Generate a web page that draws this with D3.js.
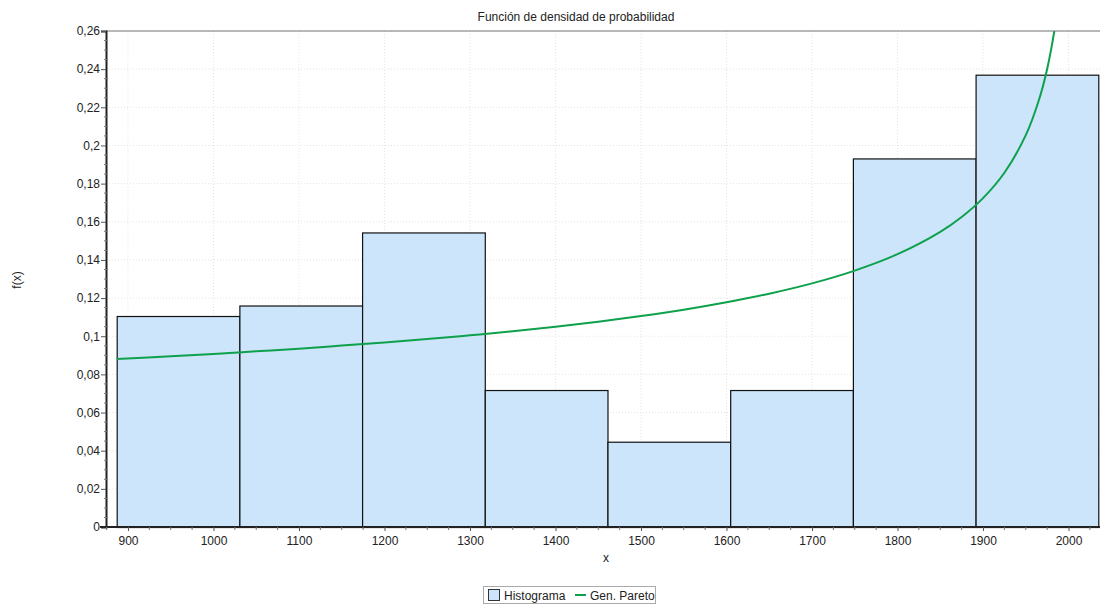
<!DOCTYPE html>
<html>
<head>
<meta charset="utf-8">
<script src="https://cdn.jsdelivr.net/npm/d3@7"></script>
<style>
  html, body { margin: 0; padding: 0; background: #fff; }
  svg text { font-family: "Liberation Sans", Arial, sans-serif; fill: #222; }
</style>
</head>
<body>
<svg id="chart" width="1102" height="605"></svg>
<script>
// ---- data ----
const binEdges = [886.8, 1030.3, 1173.8, 1317.3, 1460.8, 1604.3, 1747.8, 1891.3, 2034.8];
const binValues = [0.1106, 0.1161, 0.1544, 0.0718, 0.0447, 0.0718, 0.1932, 0.2371];
const curveX = [887, 950, 1000, 1050, 1100, 1150, 1200, 1250, 1300, 1350, 1400, 1450, 1500, 1550, 1600, 1650, 1700, 1750, 1800, 1850, 1875, 1900, 1925, 1950, 1965, 1975, 1985, 1992];
const curveY = [0.0880, 0.0895, 0.0907, 0.0921, 0.0935, 0.0951, 0.0967, 0.0985, 0.1005, 0.1026, 0.1050, 0.1076, 0.1106, 0.1139, 0.1178, 0.1223, 0.1277, 0.1344, 0.1430, 0.1547, 0.1625, 0.1724, 0.1857, 0.2054, 0.2233, 0.2401, 0.2647, 0.2911];
const xTicks = [900, 1000, 1100, 1200, 1300, 1400, 1500, 1600, 1700, 1800, 1900, 2000];
const xTickLabels = ["900", "1000", "1100", "1200", "1300", "1400", "1500", "1600", "1700", "1800", "1900", "2000"];
const yTicks = [0, 0.02, 0.04, 0.06, 0.08, 0.1, 0.12, 0.14, 0.16, 0.18, 0.2, 0.22, 0.24, 0.26];
const yTickLabels = ["0", "0,02", "0,04", "0,06", "0,08", "0,1", "0,12", "0,14", "0,16", "0,18", "0,2", "0,22", "0,24", "0,26"];
const titleText = "Función de densidad de probabilidad";
const xLabel = "x";
const yLabel = "f(x)";
const legendLabels = ["Histograma", "Gen. Pareto"];

// ---- layout ----
const L = 106, R = 1100, T = 31, B = 527;
const svg = d3.select("#chart");
const x = d3.scaleLinear().domain([874.3, 2036.8]).range([L, R]);
const y = d3.scaleLinear().domain([0, 0.26]).range([B, T]);

// grid
const grid = svg.append("g");
grid.selectAll("line.gx").data(xTicks).enter().append("line")
  .attr("x1", d => x(d)).attr("x2", d => x(d)).attr("y1", T).attr("y2", B)
  .attr("stroke", "#e4e4e4").attr("stroke-dasharray", "1,2");
grid.selectAll("line.gy").data(yTicks.slice(1)).enter().append("line")
  .attr("x1", L).attr("x2", R).attr("y1", d => y(d)).attr("y2", d => y(d))
  .attr("stroke", "#e4e4e4").attr("stroke-dasharray", "1,2");

// bars
const bins = binValues.map((v, i) => ({x0: binEdges[i], x1: binEdges[i + 1], v}));
svg.append("g").selectAll("rect").data(bins).enter().append("rect")
  .attr("x", d => x(d.x0) + 0.5).attr("y", d => y(d.v) + 0.5)
  .attr("width", d => x(d.x1) - x(d.x0)).attr("height", d => B - y(d.v))
  .attr("fill", "#cce5fb").attr("stroke", "#111").attr("stroke-width", 1.2);

// curve (clipped)
svg.append("clipPath").attr("id", "clip").append("rect")
  .attr("x", L).attr("y", T).attr("width", R - L).attr("height", B - T);
const pts = curveX.map((d, i) => [d, curveY[i]]);
svg.append("path").datum(pts)
  .attr("clip-path", "url(#clip)")
  .attr("d", d3.line().x(d => x(d[0])).y(d => y(d[1])).curve(d3.curveCatmullRom.alpha(0.5)))
  .attr("fill", "none").attr("stroke", "#0ea14b").attr("stroke-width", 2);

// top border
svg.append("line").attr("x1", L).attr("x2", R).attr("y1", T).attr("y2", T)
  .attr("stroke", "#777").attr("stroke-width", 1);

// y axis
const yAxis = d3.axisLeft(y).tickValues(yTicks).tickSize(5)
  .tickFormat((d, i) => yTickLabels[i]);
const yg = svg.append("g").attr("transform", `translate(${L},0)`).call(yAxis);
yg.select(".domain").attr("stroke", "#222").attr("stroke-width", 2);
yg.selectAll(".tick line").attr("stroke", "#555");
yg.selectAll(".tick text").attr("font-size", 12).attr("fill", "#222")
  .attr("font-family", "Liberation Sans, Arial, sans-serif").attr("x", -6);
// y minor ticks
const yMinor = d3.range(0, 0.2601, 0.005).filter(v => Math.abs(Math.round(v / 0.02) * 0.02 - v) > 1e-6);
svg.append("g").selectAll("line").data(yMinor).enter().append("line")
  .attr("x1", L - 2).attr("x2", L + 2).attr("y1", d => y(d)).attr("y2", d => y(d))
  .attr("stroke", "#777");

// x axis
const xAxis = d3.axisBottom(x).tickValues(xTicks).tickSize(4)
  .tickFormat((d, i) => xTickLabels[i]);
const xg = svg.append("g").attr("transform", `translate(0,${B})`).call(xAxis);
xg.select(".domain").attr("stroke", "#222").attr("stroke-width", 2).attr("d", `M${L - 6},0H${R}`);
xg.selectAll(".tick line").attr("stroke", "#555");
xg.selectAll(".tick text").attr("font-size", 12).attr("fill", "#222")
  .attr("font-family", "Liberation Sans, Arial, sans-serif").attr("y", 9);
// x minor ticks
const xMinor = d3.range(875, 2036, 25).filter(v => v % 100 !== 0);
svg.append("g").selectAll("line").data(xMinor).enter().append("line")
  .attr("x1", d => x(d)).attr("x2", d => x(d)).attr("y1", B).attr("y2", B + 3)
  .attr("stroke", "#777");

// title & labels
svg.append("text").attr("x", 576).attr("y", 21).attr("text-anchor", "middle")
  .attr("font-size", 12).text(titleText);
svg.append("text").attr("x", 606).attr("y", 562).attr("text-anchor", "middle")
  .attr("font-size", 12).text(xLabel);
svg.append("text").attr("transform", "translate(21,280) rotate(-90)")
  .attr("text-anchor", "middle").attr("font-size", 12).text(yLabel);

// legend
const lg = svg.append("g");
lg.append("rect").attr("x", 483.5).attr("y", 586.5).attr("width", 172).attr("height", 17)
  .attr("fill", "#fff").attr("stroke", "#aaa");
lg.append("rect").attr("x", 488.5).attr("y", 589.5).attr("width", 11).attr("height", 11)
  .attr("fill", "#cce5fb").attr("stroke", "#333");
lg.append("text").attr("x", 504).attr("y", 600).attr("font-size", 12).text(legendLabels[0]);
lg.append("line").attr("x1", 575).attr("x2", 586).attr("y1", 595).attr("y2", 595)
  .attr("stroke", "#0ea14b").attr("stroke-width", 2);
lg.append("text").attr("x", 590).attr("y", 600).attr("font-size", 12).text(legendLabels[1]);
</script>
</body>
</html>
